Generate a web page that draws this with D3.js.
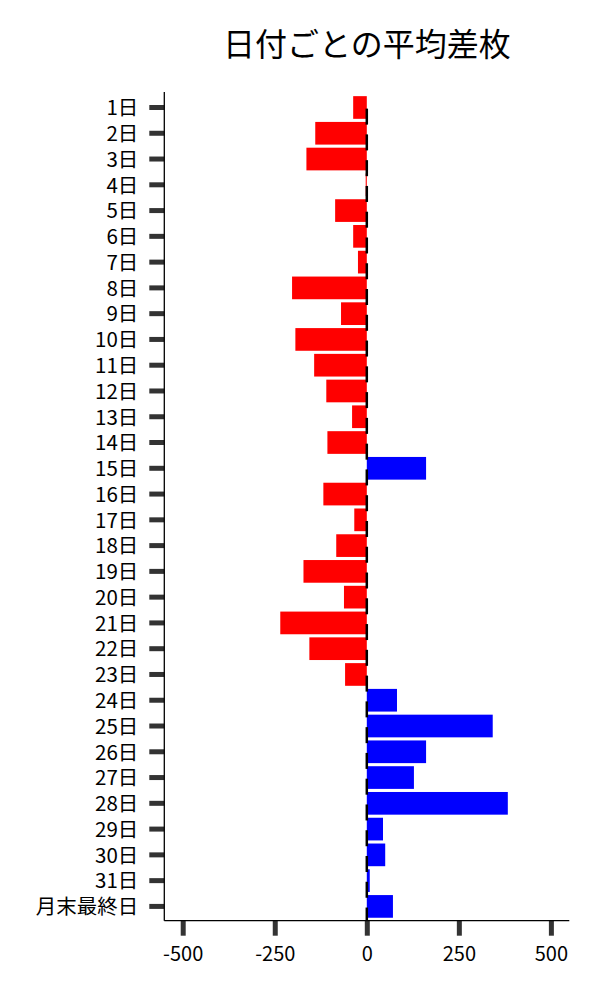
<!DOCTYPE html>
<html>
<head>
<meta charset="utf-8">
<script src="https://cdn.jsdelivr.net/npm/d3@7"></script>
<style>
  body { margin: 0; background: #fff; }
  svg { display: block; }
  text { font-family: "Noto Sans CJK JP", "Noto Sans", sans-serif; }
</style>
</head>
<body>
<svg id="chart" width="600" height="1000"></svg>
<script>
const categories = ["1日","2日","3日","4日","5日","6日","7日","8日","9日","10日","11日","12日","13日","14日","15日","16日","17日","18日","19日","20日","21日","22日","23日","24日","25日","26日","27日","28日","29日","30日","31日","月末最終日"];
const values = [-37,-140,-164,-3,-86,-37,-24,-203,-70,-194,-143,-110,-40,-107,161,-118,-34,-83,-172,-62,-235,-156,-59,82,342,161,128,383,44,50,8,71];
const xTicks = [-500,-250,0,250,500];
const title = "日付ごとの平均差枚";

(function () {
const svg = d3.select("#chart");
const pLeft = 164.3, pRight = 569.3, pTop = 92, pBottom = 920.7;

const x = d3.scaleLinear().domain([-550, 550]).range([pLeft, pRight]);
const y = d3.scaleBand().domain(categories).range([pTop + 0.8, pBottom + 0.4]).paddingInner(0.12).paddingOuter(0.13);

// bars
svg.append("g").selectAll("rect").data(categories).join("rect")
  .attr("x", (d,i) => Math.min(x(0), x(values[i])))
  .attr("y", d => y(d))
  .attr("width", (d,i) => Math.abs(x(values[i]) - x(0)))
  .attr("height", y.bandwidth())
  .attr("fill", (d,i) => values[i] < 0 ? "#ff0000" : "#0000ff");

// small black segments at zero
svg.append("g").selectAll("line").data(categories).join("line")
  .attr("x1", x(0)).attr("x2", x(0))
  .attr("y1", d => y(d) + y.bandwidth() * 0.55)
  .attr("y2", d => y(d) + y.bandwidth() * 0.55 + 16)
  .attr("stroke", "#000").attr("stroke-width", 2.5);

// y axis
const yAxis = d3.axisLeft(y).tickSize(15).tickPadding(11).tickSizeOuter(0);
const gy = svg.append("g").attr("transform", `translate(${pLeft},0)`).call(yAxis);
gy.select(".domain").remove();
gy.selectAll(".tick line").attr("stroke", "#333").attr("stroke-width", 5);
gy.selectAll(".tick text").attr("font-size", 20.5).attr("fill", "#000")
  .attr("dy", "0.38em")
  .attr("font-family", '"Noto Sans CJK JP", sans-serif');

// x axis
const xAxis = d3.axisBottom(x).tickValues(xTicks).tickFormat(d => String(d))
  .tickSize(15).tickPadding(11).tickSizeOuter(0);
const gx = svg.append("g").attr("transform", `translate(0,${pBottom})`).call(xAxis);
gx.select(".domain").remove();
gx.selectAll(".tick line").attr("stroke", "#333").attr("stroke-width", 5);
gx.selectAll(".tick text").attr("font-size", 20).attr("fill", "#000")
  .attr("font-family", '"Noto Sans CJK JP", sans-serif');

// spines
svg.append("line").attr("x1", pLeft).attr("x2", pLeft).attr("y1", pTop).attr("y2", pBottom)
  .attr("stroke", "#000").attr("stroke-width", 1.3);
svg.append("line").attr("x1", pLeft).attr("x2", pRight).attr("y1", pBottom).attr("y2", pBottom)
  .attr("stroke", "#000").attr("stroke-width", 1.3);

// title
svg.append("text").attr("x", (pLeft + pRight) / 2).attr("y", 56)
  .attr("text-anchor", "middle").attr("font-size", 32).attr("fill", "#000")
  .text(title);
})();
</script>
</body>
</html>
